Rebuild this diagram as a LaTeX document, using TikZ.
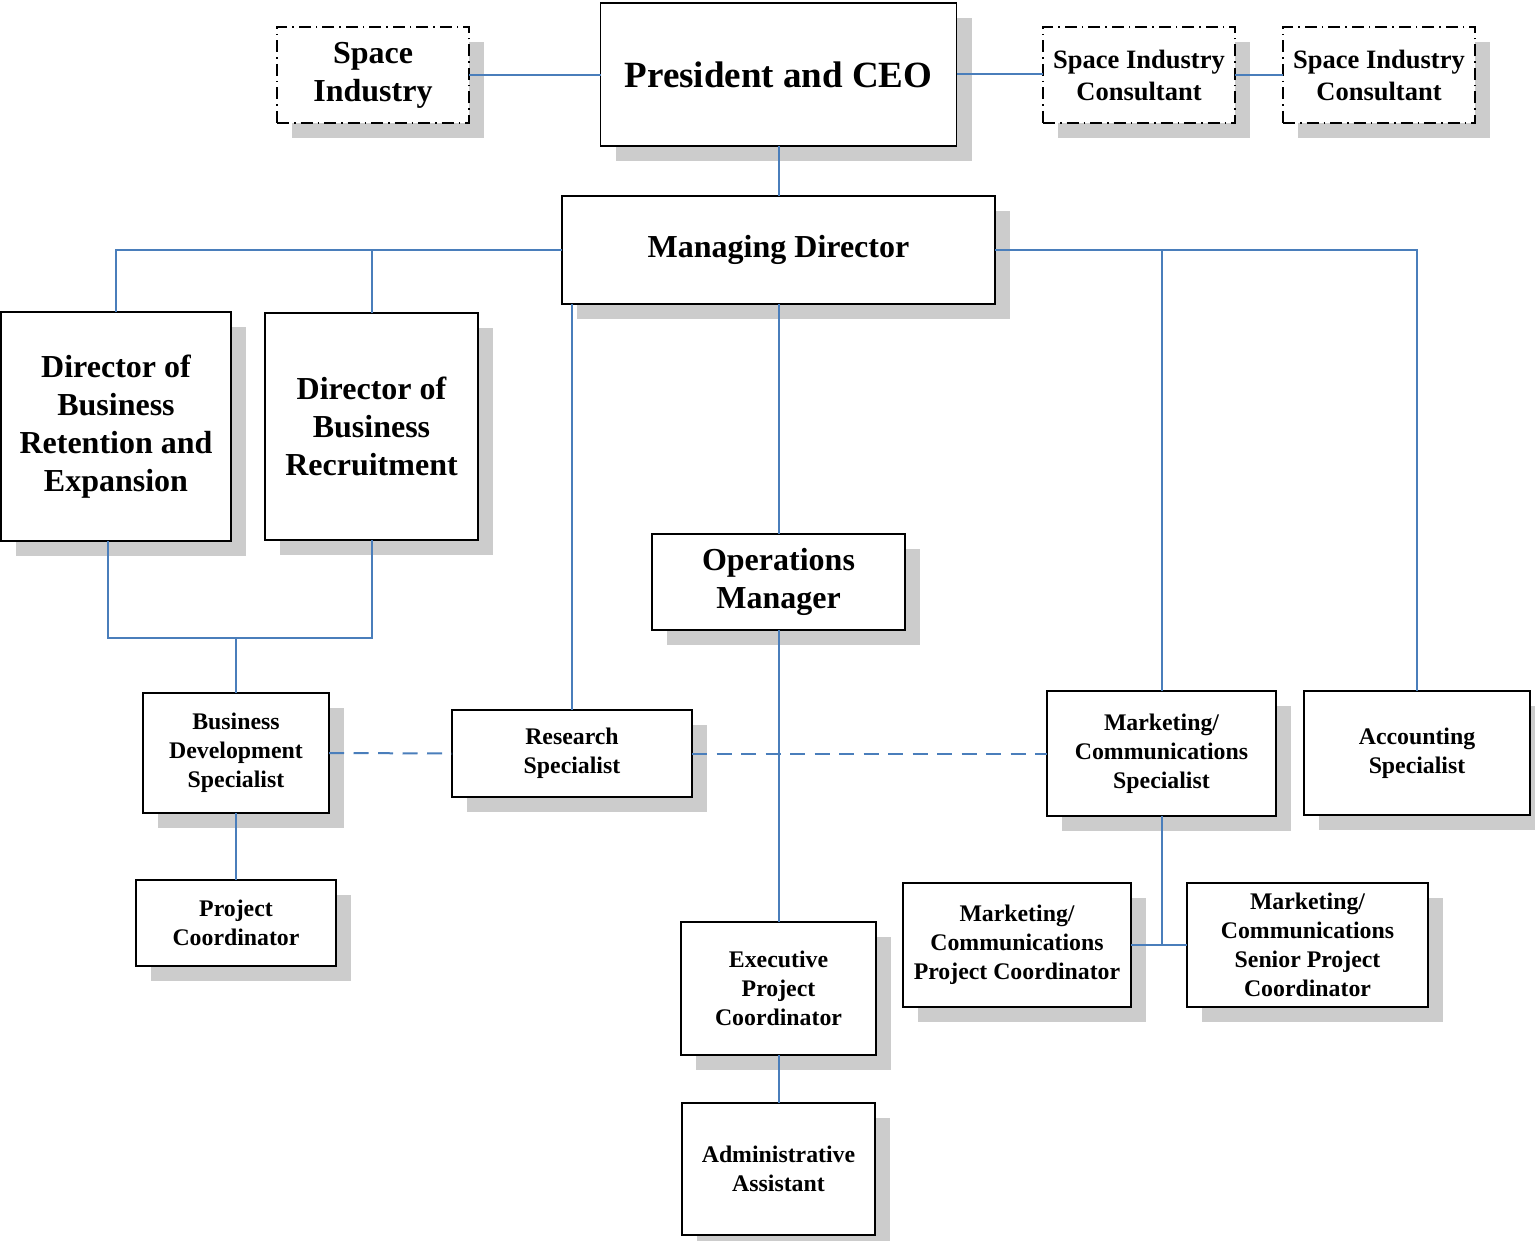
\documentclass[tikz,border=0pt]{standalone}
\usepackage{fontspec}
\setmainfont{Liberation Serif}
\usetikzlibrary{shadows}
\definecolor{linkblue}{HTML}{4A7EBB}
\definecolor{shade}{HTML}{CCCCCC}
\tikzset{
  box/.style={draw, line width=1.8pt, fill=white, align=center, inner sep=0pt, outer sep=0pt,
    font=\bfseries, drop shadow={shadow xshift=15pt, shadow yshift=-15pt, fill=shade, opacity=1}},
  dashbox/.style={box, dash pattern=on 12pt off 5pt on 1.5pt off 5pt},
  link/.style={draw=linkblue, line width=2pt},
  dlink/.style={link, dash pattern=on 15pt off 9.5pt},
  huge/.style={font=\bfseries\fontsize{37}{44}\selectfont},
  big/.style={font=\bfseries\fontsize{32}{38}\selectfont},
  mid/.style={font=\bfseries\fontsize{26.5}{32}\selectfont},
  small/.style={font=\bfseries\fontsize{23.8}{29}\selectfont}
}
\begin{document}
\begin{tikzpicture}[x=1pt, y=-1pt]
    \useasboundingbox (0,0) rectangle (1535,1241);
    \node[box, huge, minimum width=356, minimum height=143](ceo) at (778.5,74.5){President and CEO};
    \node[dashbox, big, minimum width=192, minimum height=96](si) at (373,75){Space\\Industry};
    \node[dashbox, mid, minimum width=192, minimum height=96](sic1) at (1139,75){Space Industry\\Consultant};
    \node[dashbox, mid, minimum width=192, minimum height=96](sic2) at (1379,75){Space Industry\\Consultant};
    \node[box, big, minimum width=433, minimum height=108](md) at (778.5,250){Managing Director};
    \node[box, big, minimum width=230, minimum height=229](dbre) at (116,426.5){Director of\\Business\\Retention and\\Expansion};
    \node[box, big, minimum width=213, minimum height=227](dbr) at (371.5,426.5){Director of\\Business\\Recruitment};
    \node[box, big, minimum width=253, minimum height=96](ops) at (778.5,582){Operations\\Manager};
    \node[box, small, minimum width=186, minimum height=120](bds) at (236,753){Business\\Development\\Specialist};
    \node[box, small, minimum width=240, minimum height=87](res) at (572,753.5){Research\\Specialist};
    \node[box, small, minimum width=229, minimum height=125](mcs) at (1161.5,753.5){Marketing/\\Communications\\Specialist};
    \node[box, small, minimum width=226, minimum height=124](acct) at (1417,753){Accounting\\Specialist};
    \node[box, small, minimum width=200, minimum height=86](pc) at (236,923){Project\\Coordinator};
    \node[box, small, minimum width=195, minimum height=133](epc) at (778.5,988.5){Executive\\Project\\Coordinator};
    \node[box, small, minimum width=228, minimum height=124](mcpc) at (1017,945){Marketing/\\Communications\\Project Coordinator};
    \node[box, small, minimum width=241, minimum height=124](mcspc) at (1307.5,945){Marketing/\\Communications\\Senior Project\\Coordinator};
    \node[box, small, minimum width=193, minimum height=132](adm) at (778.5,1169){Administrative\\Assistant};
    \coordinate (j1) at (236,638);

    \draw[link](si.east)--(si.east -| ceo.west);
    \draw[link](ceo.east)--(ceo.east -| sic1.west);
    \draw[link](sic1.east)--(sic2.west);
    \draw[link](ceo.south)--(md.north);
    \draw[link](md.west)-|(dbre.north);
    \draw[link](dbr.north)--(dbr.north |- md.west);
    \draw[link](md.east)-|(acct.north);
    \draw[link](mcs.north)--(mcs.north |- md.east);
    \draw[link](res.north)--(res.north |- md.south);
    \draw[link](md.south)--(ops.north);
    \draw[link](ops.south)--(epc.north);
    \draw[link](epc.south)--(adm.north);
    \draw[link]([xshift=-8pt]dbre.south)|-(j1)-|(dbr.south);
    \draw[link](j1)--(bds.north);
    \draw[link](bds.south)--(pc.north);
    \draw[dlink](bds.east)--(res.west);
    \draw[dlink](res.east)--(mcs.west);
    \draw[link](mcs.south)--(mcs.south |- mcpc.east);
    \draw[link](mcpc.east)--(mcspc.west);
\end{tikzpicture}
\end{document}
